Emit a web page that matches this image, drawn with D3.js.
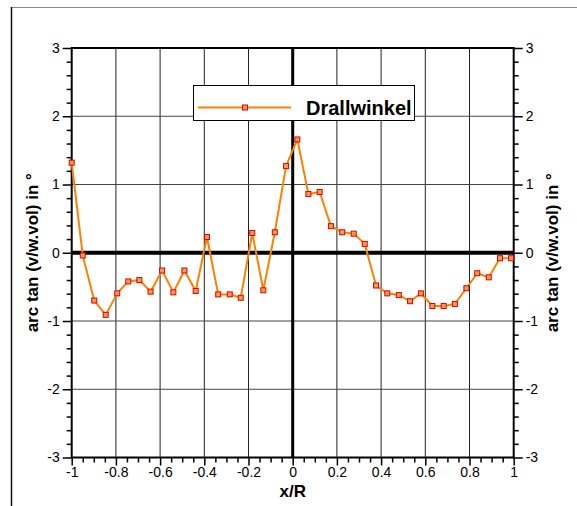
<!DOCTYPE html>
<meta charset="utf-8">
<script src="https://d3js.org/d3.v7.min.js"></script>
<style>
  body { margin: 0; background: #fff; }
  text { font-family: Arial, "Liberation Sans", sans-serif; }
</style>
<div id="chart"></div>
<script>

  // data
  var xVals = [-1, -0.95, -0.898, -0.846, -0.794, -0.744, -0.694, -0.643, -0.591, -0.54,
               -0.49, -0.439, -0.388, -0.337, -0.285, -0.235, -0.183, -0.133, -0.081, -0.03,
               0.021, 0.071, 0.122, 0.173, 0.224, 0.276, 0.326, 0.377, 0.428, 0.48,
               0.531, 0.58, 0.632, 0.683, 0.734, 0.786, 0.835, 0.887, 0.938, 0.988];
  var drallwinkel = [1.32, -0.04, -0.70, -0.91, -0.595, -0.42, -0.40, -0.57, -0.26, -0.58,
                     -0.26, -0.56, 0.23, -0.61, -0.61, -0.66, 0.29, -0.55, 0.30, 1.27,
                     1.66, 0.86, 0.89, 0.39, 0.30, 0.28, 0.13, -0.48, -0.595, -0.62,
                     -0.71, -0.595, -0.78, -0.78, -0.75, -0.52, -0.30, -0.36, -0.08, -0.08];
  var xTicks = [-1, -0.8, -0.6, -0.4, -0.2, 0, 0.2, 0.4, 0.6, 0.8, 1];
  var xMinor = [-0.95, -0.9, -0.85, -0.75, -0.7, -0.65, -0.55, -0.5, -0.45, -0.35, -0.3, -0.25,
                -0.15, -0.1, -0.05, 0.05, 0.1, 0.15, 0.25, 0.3, 0.35, 0.45, 0.5, 0.55,
                0.65, 0.7, 0.75, 0.85, 0.9, 0.95];
  var yTicks = [-3, -2, -1, 0, 1, 2, 3];
  var yMinor = [-2.8, -2.6, -2.4, -2.2, -1.8, -1.6, -1.4, -1.2, -0.8, -0.6, -0.4, -0.2,
                0.2, 0.4, 0.6, 0.8, 1.2, 1.4, 1.6, 1.8, 2.2, 2.4, 2.6, 2.8];
  var seriesName = "Drallwinkel";

  var width = 577, height = 506;
  var plot = {left: 71.7, right: 513.7, top: 48, bottom: 457.5};

  var svg = d3.select("#chart").append("svg")
      .attr("width", width)
      .attr("height", height);

  // outer frame (only top and left visible)
  svg.append("line").attr("x1", 11).attr("x2", width).attr("y1", 7.5).attr("y2", 7.5)
    .attr("stroke", "#888").attr("stroke-width", 1);
  svg.append("line").attr("x1", 11.5).attr("x2", 11.5).attr("y1", 7).attr("y2", height)
    .attr("stroke", "#111").attr("stroke-width", 1.5);

  var x = d3.scaleLinear().domain([-1, 1]).range([plot.left, plot.right]);
  var y = d3.scaleLinear().domain([-3, 3]).range([plot.bottom, plot.top]);

  // grid
  svg.append("g").selectAll("line")
    .data(xTicks.filter(d => d !== 0 && Math.abs(d) !== 1))
    .join("line")
      .attr("x1", d => x(d)).attr("x2", d => x(d))
      .attr("y1", plot.top).attr("y2", plot.bottom)
      .attr("stroke", "#222").attr("stroke-width", 1);
  svg.append("g").selectAll("line")
    .data(yTicks.filter(d => d !== 0 && Math.abs(d) !== 3))
    .join("line")
      .attr("x1", plot.left).attr("x2", plot.right)
      .attr("y1", d => y(d)).attr("y2", d => y(d))
      .attr("stroke", "#444").attr("stroke-width", 1.2);

  // zero lines
  svg.append("line").attr("x1", plot.left).attr("x2", plot.right)
    .attr("y1", y(0)).attr("y2", y(0)).attr("stroke", "#000").attr("stroke-width", 4);
  svg.append("line").attr("x1", x(0)).attr("x2", x(0))
    .attr("y1", plot.top).attr("y2", plot.bottom).attr("stroke", "#000").attr("stroke-width", 3);

  // axes
  function style(g, labels) {
    g.select(".domain").remove();
    g.selectAll("line").attr("stroke", "#000").attr("stroke-width", 1.5);
    g.selectAll("text").attr("fill", "#000").style("font-size", "14px");
  }
  var fmt = d => String(d);

  svg.append("g").attr("transform", `translate(${plot.left},0)`)
    .call(d3.axisLeft(y).tickValues(yMinor).tickSize(5).tickFormat(""))
    .call(g => style(g));
  svg.append("g").attr("transform", `translate(${plot.left},0)`)
    .call(d3.axisLeft(y).tickValues(yTicks).tickSize(9).tickPadding(3).tickFormat(fmt))
    .call(g => style(g));
  svg.append("g").attr("transform", `translate(${plot.right},0)`)
    .call(d3.axisRight(y).tickValues(yMinor).tickSize(5).tickFormat(""))
    .call(g => style(g));
  svg.append("g").attr("transform", `translate(${plot.right},0)`)
    .call(d3.axisRight(y).tickValues(yTicks).tickSize(9).tickPadding(3).tickFormat(fmt))
    .call(g => style(g));
  svg.append("g").attr("transform", `translate(0,${plot.bottom})`)
    .call(d3.axisBottom(x).tickValues(xMinor).tickSize(5).tickFormat(""))
    .call(g => style(g));
  svg.append("g").attr("transform", `translate(0,${plot.bottom})`)
    .call(d3.axisBottom(x).tickValues(xTicks).tickSize(8).tickPadding(2).tickFormat(fmt))
    .call(g => style(g));

  // plot border
  svg.append("rect")
    .attr("x", plot.left).attr("y", plot.top)
    .attr("width", plot.right - plot.left).attr("height", plot.bottom - plot.top)
    .attr("fill", "none").attr("stroke", "#000").attr("stroke-width", 2);

  // axis titles
  svg.append("text").attr("x", (plot.left + plot.right) / 2).attr("y", 497)
    .attr("text-anchor", "middle").style("font-size", "17px").style("font-weight", "bold")
    .text("x/R");
  [38, 558].forEach(function(px) {
    svg.append("text")
      .attr("transform", `translate(${px},${y(0)}) rotate(-90)`)
      .attr("text-anchor", "middle").style("font-size", "17px").style("font-weight", "bold")
      .text("arc tan (v/w.vol) in °");
  });

  // series
  var pts = xVals.map((d, i) => [d, drallwinkel[i]]);
  svg.append("path").datum(pts)
    .attr("fill", "none").attr("stroke", "#ff8000").attr("stroke-width", 2)
    .attr("stroke-linejoin", "round")
    .attr("d", d3.line().x(d => x(d[0])).y(d => y(d[1])));
  svg.append("g").selectAll("rect")
    .data(pts)
    .join("rect")
      .attr("x", d => x(d[0]) - 2.5).attr("y", d => y(d[1]) - 2.5)
      .attr("width", 5).attr("height", 5)
      .attr("fill", "#ff9a50").attr("stroke", "#e00000").attr("stroke-width", 1);

  // legend
  var leg = svg.append("g");
  leg.append("rect").attr("x", 193.5).attr("y", 85.5).attr("width", 221).attr("height", 35)
    .attr("fill", "#fff").attr("stroke", "#000").attr("stroke-width", 1);
  leg.append("line").attr("x1", 198).attr("x2", 291).attr("y1", 107.5).attr("y2", 107.5)
    .attr("stroke", "#ff8000").attr("stroke-width", 2);
  leg.append("rect").attr("x", 242.5).attr("y", 105).attr("width", 5).attr("height", 5)
    .attr("fill", "#ff9a50").attr("stroke", "#e00000").attr("stroke-width", 1);
  leg.append("text").attr("x", 306).attr("y", 114.5)
    .style("font-size", "20px").style("font-weight", "bold")
    .text(seriesName);

</script>
